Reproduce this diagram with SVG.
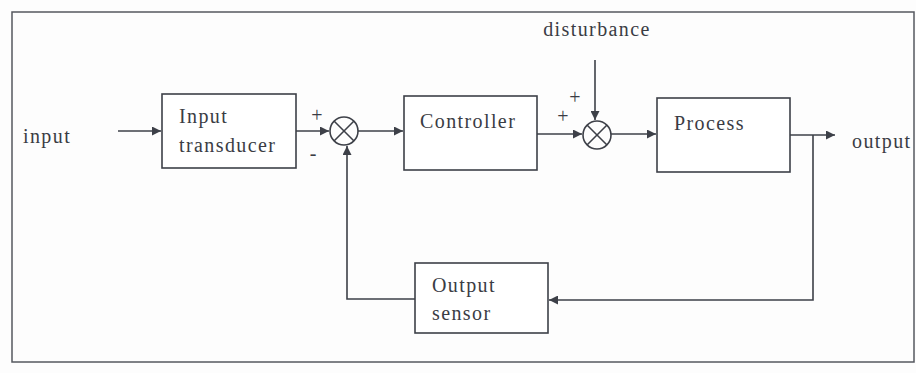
<svg xmlns="http://www.w3.org/2000/svg" width="916" height="373" viewBox="0 0 916 373">
<style>
.box{fill:#fff;stroke:#3d4048;stroke-width:1.6}
.ln{fill:none;stroke:#3d4048;stroke-width:1.6}
text{font-family:'Liberation Serif','DejaVu Serif','Times New Roman',serif;font-size:20px;fill:#3a3c44}
.t{letter-spacing:1.4px}
</style>
<defs>
<marker id="ah" viewBox="0 0 10 10" refX="10" refY="5" markerWidth="11" markerHeight="9" markerUnits="userSpaceOnUse" orient="auto">
<path d="M0,0 L10,5 L0,10 z" fill="#3d4048"/>
</marker>
</defs>
<rect x="0" y="0" width="916" height="373" fill="#fdfdfd"/>
<rect x="12" y="12" width="902" height="350" fill="none" stroke="#55585f" stroke-width="1.5"/>

<g id="connectors">
<line class="ln" x1="118" y1="131" x2="161" y2="131" marker-end="url(#ah)"/>
<line class="ln" x1="296" y1="131" x2="329" y2="131" marker-end="url(#ah)"/>
<line class="ln" x1="358" y1="131" x2="403" y2="131" marker-end="url(#ah)"/>
<line class="ln" x1="537" y1="134" x2="582" y2="134" marker-end="url(#ah)"/>
<line class="ln" x1="595" y1="60" x2="595" y2="120" marker-end="url(#ah)"/>
<line class="ln" x1="611" y1="134" x2="656" y2="134" marker-end="url(#ah)"/>
<line class="ln" x1="790" y1="135" x2="835" y2="135" marker-end="url(#ah)"/>
<polyline class="ln" points="813,135 813,300 549,300" marker-end="url(#ah)"/>
<polyline class="ln" points="415,299 347,299 347,146" marker-end="url(#ah)"/>
</g>

<g id="input-label"><text class="t" x="23" y="143" font-family="Liberation Serif, serif">input</text></g>

<g id="input-transducer">
<rect class="box" x="162" y="94" width="134" height="74"/>
<text class="t" x="179" y="123" font-family="Liberation Serif, serif">Input</text>
<text class="t" x="179" y="152" font-family="Liberation Serif, serif">transducer</text>
</g>

<g id="sum1">
<circle class="ln" cx="344" cy="131" r="14"/>
<line class="ln" x1="334" y1="121" x2="354" y2="141"/>
<line class="ln" x1="354" y1="121" x2="334" y2="141"/>
<text x="317" y="122" text-anchor="middle" font-family="Liberation Serif, serif">+</text>
<text x="313" y="160" text-anchor="middle" font-family="Liberation Serif, serif">-</text>
</g>

<g id="controller">
<rect class="box" x="404" y="96" width="133" height="74"/>
<text class="t" x="420" y="128" font-family="Liberation Serif, serif">Controller</text>
</g>

<g id="disturbance">
<text class="t" x="597" y="36" text-anchor="middle" font-family="Liberation Serif, serif">disturbance</text>
</g>

<g id="sum2">
<circle class="ln" cx="597" cy="135" r="14"/>
<line class="ln" x1="587" y1="125" x2="607" y2="145"/>
<line class="ln" x1="607" y1="125" x2="587" y2="145"/>
<text x="575" y="104" text-anchor="middle" font-family="Liberation Serif, serif">+</text>
<text x="563" y="123" text-anchor="middle" font-family="Liberation Serif, serif">+</text>
</g>

<g id="process">
<rect class="box" x="657" y="98" width="133" height="74"/>
<text class="t" x="674" y="130" font-family="Liberation Serif, serif">Process</text>
</g>

<g id="output-label"><text class="t" x="852" y="148" font-family="Liberation Serif, serif">output</text></g>

<g id="output-sensor">
<rect class="box" x="415" y="263" width="133" height="70"/>
<text class="t" x="432" y="292" font-family="Liberation Serif, serif">Output</text>
<text class="t" x="432" y="320" font-family="Liberation Serif, serif">sensor</text>
</g>
</svg>
